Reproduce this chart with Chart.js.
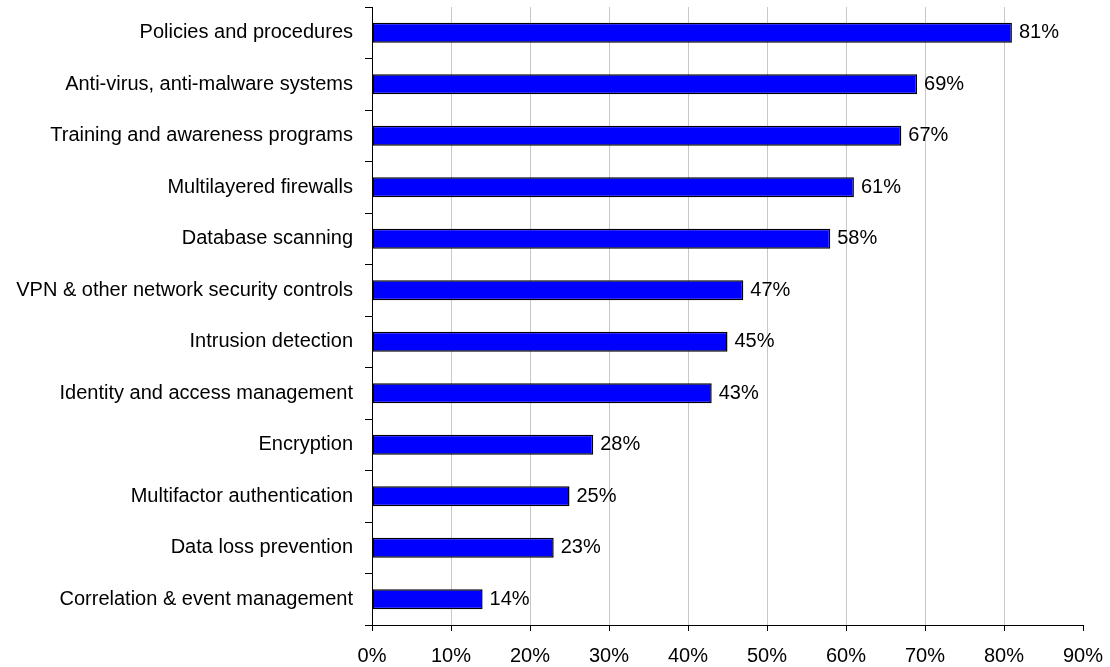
<!DOCTYPE html>
<html>
<head>
<meta charset="utf-8">
<title>Security measures in place</title>
<script src="https://cdn.jsdelivr.net/npm/chart.js@4.4.1/dist/chart.umd.min.js"></script>
<style>
  html, body { margin: 0; padding: 0; background: #fff; }
  #wrap { width: 1110px; height: 667px; position: relative; }
</style>
</head>
<body>
<div id="wrap"><canvas id="bar-chart"></canvas></div>
<script>
// ---------------------------------------------------------------
// data
// ---------------------------------------------------------------
var measureNames = [
  'Policies and procedures',
  'Anti-virus, anti-malware systems',
  'Training and awareness programs',
  'Multilayered firewalls',
  'Database scanning',
  'VPN & other network security controls',
  'Intrusion detection',
  'Identity and access management',
  'Encryption',
  'Multifactor authentication',
  'Data loss prevention',
  'Correlation & event management'
];
var measurePct = [81, 69, 67, 61, 58, 47, 45, 43, 28, 25, 23, 14];
var pctTicks = [0, 10, 20, 30, 40, 50, 60, 70, 80, 90];

Chart.defaults.font.family = "'Liberation Sans', Arial, sans-serif";
Chart.defaults.font.size = 20;
Chart.defaults.color = '#000';

// writes "NN%" just past the end of each bar
var valueLabels = {
  id: 'valueLabels',
  afterDatasetsDraw: function(chart) {
    var ctx = chart.ctx;
    var meta = chart.getDatasetMeta(0);
    ctx.save();
    ctx.font = "20px 'Liberation Sans', Arial, sans-serif";
    ctx.fillStyle = '#000';
    ctx.textAlign = 'left';
    ctx.textBaseline = 'middle';
    meta.data.forEach(function(bar, i) {
      ctx.fillText(measurePct[i] + '%', bar.x + 7, bar.y);
    });
    ctx.restore();
  }
};

// keep the plot area fixed, no extra room reserved for edge labels
function noEdgePadding(scale) {
  scale.paddingTop = 0;
  scale.paddingBottom = 0;
  scale.paddingLeft = 0;
  scale.paddingRight = 0;
}

var chartCanvas = document.getElementById('bar-chart');

new Chart(chartCanvas, {
  type: 'bar',
  data: {
    labels: measureNames,
    datasets: [{
      data: measurePct,
      backgroundColor: '#0000ff',
      borderColor: '#000',
      borderWidth: 1.5,
      borderSkipped: false,
      barPercentage: 0.39,
      categoryPercentage: 1
    }]
  },
  options: {
    indexAxis: 'y',
    responsive: true,
    maintainAspectRatio: false,
    animation: false,
    layout: { padding: { top: 7, right: 27, left: 0, bottom: 0 } },
    plugins: {
      legend: { display: false },
      tooltip: { enabled: false }
    },
    scales: {
      x: {
        min: 0,
        max: 90,
        afterBuildTicks: function(scale) {
          scale.ticks = pctTicks.map(function(v) { return { value: v }; });
        },
        afterFit: function(scale) {
          scale.height = 42;
          noEdgePadding(scale);
        },
        ticks: {
          padding: 13,
          callback: function(v) { return v + '%'; }
        },
        grid: {
          color: function(c) {
            return (c.tick && c.tick.value === 90) ? 'rgba(0,0,0,0)' : '#c8c8c8';
          },
          tickColor: '#000',
          tickLength: 6,
          lineWidth: 1
        },
        border: { color: '#000', width: 1 }
      },
      y: {
        afterFit: function(scale) {
          scale.width = 372;
          noEdgePadding(scale);
        },
        ticks: { padding: 12, autoSkip: false },
        grid: {
          offset: true,
          drawOnChartArea: false,
          tickColor: '#000',
          tickLength: 7
        },
        border: { color: '#000', width: 1 }
      }
    }
  },
  plugins: [valueLabels]
});
</script>
</body>
</html>
